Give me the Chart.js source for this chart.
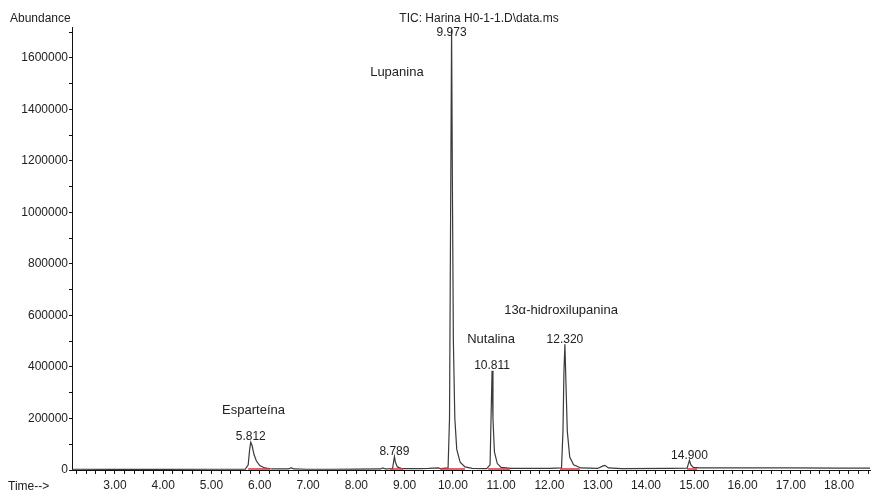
<!DOCTYPE html>
<html>
<head>
<meta charset="utf-8">
<script src="https://cdn.jsdelivr.net/npm/chart.js@4.4.1/dist/chart.umd.min.js"></script>
<style>
  body { margin: 0; background: #fff; }
  canvas { display: block; }
</style>
</head>
<body>
<canvas id="tic" width="873" height="491"></canvas>
<script>
// trace (retention time in min, abundance)
const times = [2.11, 3.00, 4.00, 5.00, 5.70, 5.76, 5.79, 5.812, 5.84, 5.88, 5.93, 6.00, 6.10, 6.25,
  6.60, 6.65, 6.70, 7.00, 7.50, 8.00, 8.50, 8.55, 8.60, 8.75, 8.77, 8.789, 8.81, 8.85, 8.95,
  9.30, 9.50, 9.70, 9.75, 9.90, 9.93, 9.95, 9.973, 9.99, 10.01, 10.04, 10.08, 10.15, 10.25, 10.40,
  10.70, 10.77, 10.79, 10.811, 10.83, 10.86, 10.92, 11.00, 11.20, 12.00, 12.25, 12.28, 12.30,
  12.32, 12.34, 12.37, 12.42, 12.50, 12.65, 13.00, 13.10, 13.15, 13.22, 13.50, 14.50, 14.85,
  14.88, 14.90, 14.93, 14.98, 15.10, 16.00, 17.00, 18.00, 18.64];
const abundance = [3000, 2500, 2500, 3000, 3000, 20000, 80000, 108000, 95000, 60000, 35000, 17000, 8000, 4000,
  4000, 9000, 4000, 3000, 3000, 3500, 4000, 8000, 4000, 5000, 30000, 52000, 30000, 12000, 5000,
  5000, 6000, 8000, 5000, 8000, 200000, 900000, 1710000, 1100000, 500000, 200000, 80000, 30000, 12000, 6000,
  5000, 20000, 200000, 385000, 200000, 70000, 25000, 10000, 6000, 6000, 8000, 150000, 380000,
  488000, 350000, 150000, 50000, 20000, 8000, 6000, 15000, 18000, 8000, 5000, 6000, 7000,
  25000, 38000, 20000, 10000, 8000, 8000, 8000, 7000, 7000];

const peakTimes = [5.812, 8.789, 9.973, 10.811, 12.320, 14.900];
const peakHeights = [108000, 52000, 1710000, 385000, 488000, 38000];
const peakLabels = ['5.812', '8.789', '9.973', '10.811', '12.320', '14.900'];

const compoundNames = ['Esparteína', 'Lupanina', 'Nutalina', '13α-hidroxilupanina'];
const compoundTimes = [5.87, 8.84, 10.79, 12.24];
const compoundLevels = [230000, 1545000, 506000, 618000];

// integration baselines (red)
const integStart = [5.76, 8.70, 9.74, 10.73, 12.22, 14.85];
const integEnd = [6.21, 8.97, 10.25, 11.18, 12.63, 15.06];
const integLevel = 4000;

const xMajorTicks = [3, 4, 5, 6, 7, 8, 9, 10, 11, 12, 13, 14, 15, 16, 17, 18];
const yMajorTicks = [0, 200000, 400000, 600000, 800000, 1000000, 1200000, 1400000, 1600000];

const xTicks = [];
for (let t = 2.2; t < 18.64; t += 0.2) xTicks.push(Math.round(t * 10) / 10);
const yTicks = [];
for (let v = 0; v <= 1700000; v += 100000) yTicks.push(v);

const tracePoints = times.map((t, i) => ({ x: t, y: abundance[i] }));
const integPoints = [];
integStart.forEach((s, i) => {
  integPoints.push({ x: s, y: integLevel }, { x: integEnd[i], y: integLevel }, { x: integEnd[i], y: null });
});

const FONT = 'Liberation Sans, Arial, sans-serif';

const textPlugin = {
  id: 'chromText',
  afterDatasetsDraw(chart) {
    const { ctx, chartArea } = chart;
    const xs = chart.scales.x, ys = chart.scales.y;
    ctx.save();
    ctx.fillStyle = '#222';
    ctx.font = '12px ' + FONT;
    ctx.textAlign = 'center';
    ctx.textBaseline = 'bottom';
    peakLabels.forEach((lab, i) => {
      const px = xs.getPixelForValue(peakTimes[i]);
      let py = ys.getPixelForValue(peakHeights[i]) + 1;
      py = Math.max(py, chartArea.top + 12);
      ctx.fillText(lab, px, py);
    });
    ctx.font = '13px ' + FONT;
    ctx.textBaseline = 'middle';
    compoundNames.forEach((name, i) => {
      ctx.fillText(name, xs.getPixelForValue(compoundTimes[i]), ys.getPixelForValue(compoundLevels[i]));
    });
    ctx.font = '12px ' + FONT;
    ctx.fillText('TIC: Harina H0-1-1.D\\data.ms', 479, 19);
    ctx.textAlign = 'left';
    ctx.fillText('Abundance', 10, 19);
    ctx.fillText('Time-->', 8, 487);
    ctx.restore();
  }
};

new Chart(document.getElementById('tic'), {
  type: 'line',
  data: {
    datasets: [
      {
        data: integPoints,
        borderColor: '#e0303a',
        borderWidth: 1.6,
        pointRadius: 0,
        spanGaps: false,
        order: 0
      },
      {
        data: tracePoints,
        borderColor: '#3a3a3a',
        borderWidth: 1.2,
        pointRadius: 0,
        tension: 0,
        order: 1
      }
    ]
  },
  options: {
    responsive: false,
    animation: false,
    layout: { padding: { top: 27, right: 3, left: 0, bottom: 0 } },
    plugins: { legend: { display: false }, tooltip: { enabled: false } },
    scales: {
      x: {
        type: 'linear',
        min: 2.11,
        max: 18.64,
        afterBuildTicks: axis => { axis.ticks = xTicks.map(v => ({ value: v })); },
        afterFit: axis => { axis.height = 21; },
        border: { display: true, color: '#111', width: 1 },
        grid: { drawOnChartArea: false, drawTicks: true, tickLength: 4, color: '#111' },
        ticks: {
          autoSkip: false,
          maxRotation: 0,
          padding: 4,
          color: '#222',
          font: { family: FONT, size: 12 },
          callback: v => xMajorTicks.includes(Math.round(v * 10) / 10) ? v.toFixed(2) : ''
        }
      },
      y: {
        min: 0,
        max: 1720000,
        afterBuildTicks: axis => { axis.ticks = yTicks.map(v => ({ value: v })); },
        afterFit: axis => { axis.width = 72; },
        border: { display: true, color: '#111', width: 1 },
        grid: { drawOnChartArea: false, drawTicks: true, tickLength: 3, color: '#111' },
        ticks: {
          autoSkip: false,
          padding: 1,
          color: '#222',
          font: { family: FONT, size: 12 },
          callback: v => yMajorTicks.includes(v) ? String(v) : ''
        }
      }
    }
  },
  plugins: [textPlugin]
});
</script>
</body>
</html>
